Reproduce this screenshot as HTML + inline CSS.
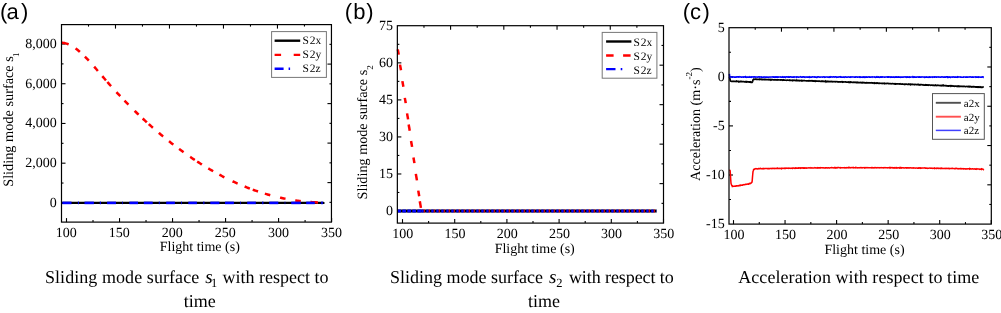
<!DOCTYPE html><html><head><meta charset="utf-8"><style>html,body{margin:0;padding:0;background:#fff;overflow:hidden}svg{display:block;will-change:transform;text-rendering:geometricPrecision}</style></head><body>
<svg width="1001" height="313" viewBox="0 0 1001 313">
<rect width="1001" height="313" fill="#fff"/>
<text y="18.7" font-family='"Liberation Sans", sans-serif' font-size="22" x="0.00 6.50 21.00">(a)</text>
<line x1="66.50" y1="222.1" x2="66.50" y2="218.1" stroke="#000" stroke-width="1.1"/>
<line x1="93.01" y1="222.1" x2="93.01" y2="220.1" stroke="#000" stroke-width="1.1"/>
<line x1="119.52" y1="222.1" x2="119.52" y2="218.1" stroke="#000" stroke-width="1.1"/>
<line x1="146.03" y1="222.1" x2="146.03" y2="220.1" stroke="#000" stroke-width="1.1"/>
<line x1="172.54" y1="222.1" x2="172.54" y2="218.1" stroke="#000" stroke-width="1.1"/>
<line x1="199.05" y1="222.1" x2="199.05" y2="220.1" stroke="#000" stroke-width="1.1"/>
<line x1="225.56" y1="222.1" x2="225.56" y2="218.1" stroke="#000" stroke-width="1.1"/>
<line x1="252.07" y1="222.1" x2="252.07" y2="220.1" stroke="#000" stroke-width="1.1"/>
<line x1="278.58" y1="222.1" x2="278.58" y2="218.1" stroke="#000" stroke-width="1.1"/>
<line x1="305.09" y1="222.1" x2="305.09" y2="220.1" stroke="#000" stroke-width="1.1"/>
<line x1="331.60" y1="222.1" x2="331.60" y2="218.1" stroke="#000" stroke-width="1.1"/>
<line x1="61.5" y1="202.90" x2="65.5" y2="202.90" stroke="#000" stroke-width="1.1"/>
<line x1="61.5" y1="183.04" x2="63.5" y2="183.04" stroke="#000" stroke-width="1.1"/>
<line x1="61.5" y1="163.18" x2="65.5" y2="163.18" stroke="#000" stroke-width="1.1"/>
<line x1="61.5" y1="143.32" x2="63.5" y2="143.32" stroke="#000" stroke-width="1.1"/>
<line x1="61.5" y1="123.46" x2="65.5" y2="123.46" stroke="#000" stroke-width="1.1"/>
<line x1="61.5" y1="103.60" x2="63.5" y2="103.60" stroke="#000" stroke-width="1.1"/>
<line x1="61.5" y1="83.74" x2="65.5" y2="83.74" stroke="#000" stroke-width="1.1"/>
<line x1="61.5" y1="63.88" x2="63.5" y2="63.88" stroke="#000" stroke-width="1.1"/>
<line x1="61.5" y1="44.02" x2="65.5" y2="44.02" stroke="#000" stroke-width="1.1"/>
<line x1="88.50" y1="24.6" x2="88.50" y2="26.6" stroke="#000" stroke-width="1.1"/>
<line x1="115.49" y1="24.6" x2="115.49" y2="28.6" stroke="#000" stroke-width="1.1"/>
<line x1="142.48" y1="24.6" x2="142.48" y2="26.6" stroke="#000" stroke-width="1.1"/>
<line x1="169.48" y1="24.6" x2="169.48" y2="28.6" stroke="#000" stroke-width="1.1"/>
<line x1="196.47" y1="24.6" x2="196.47" y2="26.6" stroke="#000" stroke-width="1.1"/>
<line x1="223.47" y1="24.6" x2="223.47" y2="28.6" stroke="#000" stroke-width="1.1"/>
<line x1="250.46" y1="24.6" x2="250.46" y2="26.6" stroke="#000" stroke-width="1.1"/>
<line x1="277.46" y1="24.6" x2="277.46" y2="28.6" stroke="#000" stroke-width="1.1"/>
<line x1="304.45" y1="24.6" x2="304.45" y2="26.6" stroke="#000" stroke-width="1.1"/>
<line x1="331.45" y1="44.35" x2="329.45" y2="44.35" stroke="#000" stroke-width="1.1"/>
<line x1="331.45" y1="64.10" x2="327.45" y2="64.10" stroke="#000" stroke-width="1.1"/>
<line x1="331.45" y1="83.85" x2="329.45" y2="83.85" stroke="#000" stroke-width="1.1"/>
<line x1="331.45" y1="103.60" x2="327.45" y2="103.60" stroke="#000" stroke-width="1.1"/>
<line x1="331.45" y1="123.35" x2="329.45" y2="123.35" stroke="#000" stroke-width="1.1"/>
<line x1="331.45" y1="143.10" x2="327.45" y2="143.10" stroke="#000" stroke-width="1.1"/>
<line x1="331.45" y1="162.85" x2="329.45" y2="162.85" stroke="#000" stroke-width="1.1"/>
<line x1="331.45" y1="182.60" x2="327.45" y2="182.60" stroke="#000" stroke-width="1.1"/>
<line x1="331.45" y1="202.35" x2="329.45" y2="202.35" stroke="#000" stroke-width="1.1"/>
<line x1="62.7" y1="202.90" x2="323.40" y2="202.90" stroke="#000" stroke-width="2.4" stroke-linecap="round"/>
<path d="M61.50,42.68 L62.52,42.76 L63.53,42.89 L64.55,43.09 L65.56,43.34 L66.58,43.64 L67.59,44.00 L68.61,44.40 L69.62,44.86 L70.64,45.36 L71.65,45.92 L72.67,46.51 L73.68,47.15 L74.70,47.83 L75.71,48.55 L76.73,49.31 L77.74,50.10 L78.76,50.93 L79.77,51.79 L80.79,52.69 L81.80,53.61 L82.82,54.57 L83.83,55.55 L84.85,56.55 L85.86,57.58 L86.88,58.63 L87.89,59.70 L88.91,60.79 L89.92,61.90 L90.94,63.02 L91.95,64.16 L92.97,65.31 L93.98,66.47 L95.00,67.63 L96.01,68.81 L97.03,69.99 L98.04,71.18 L99.06,72.37 L100.07,73.56 L101.09,74.75 L102.10,75.93 L103.12,77.12 L104.13,78.30 L105.15,79.47 L106.16,80.63 L107.18,81.79 L108.19,82.94 L109.21,84.09 L110.22,85.23 L111.24,86.37 L112.25,87.49 L113.27,88.62 L114.28,89.73 L115.30,90.84 L116.31,91.94 L117.33,93.04 L118.34,94.13 L119.36,95.22 L120.37,96.30 L121.39,97.37 L122.40,98.44 L123.42,99.50 L124.43,100.55 L125.45,101.60 L126.46,102.64 L127.48,103.68 L128.49,104.71 L129.51,105.74 L130.52,106.76 L131.54,107.77 L132.55,108.78 L133.57,109.78 L134.58,110.77 L135.60,111.76 L136.61,112.75 L137.63,113.73 L138.64,114.70 L139.66,115.67 L140.67,116.63 L141.69,117.58 L142.70,118.53 L143.72,119.48 L144.73,120.42 L145.75,121.35 L146.76,122.28 L147.78,123.20 L148.79,124.12 L149.81,125.03 L150.83,125.93 L151.84,126.83 L152.86,127.73 L153.87,128.61 L154.89,129.50 L155.90,130.37 L156.92,131.25 L157.93,132.11 L158.95,132.98 L159.96,133.83 L160.98,134.68 L161.99,135.53 L163.01,136.37 L164.02,137.20 L165.04,138.03 L166.05,138.86 L167.07,139.68 L168.08,140.49 L169.10,141.30 L170.11,142.10 L171.13,142.90 L172.14,143.69 L173.16,144.48 L174.17,145.26 L175.19,146.04 L176.20,146.81 L177.22,147.57 L178.23,148.33 L179.25,149.09 L180.26,149.84 L181.28,150.58 L182.29,151.32 L183.31,152.05 L184.32,152.78 L185.34,153.51 L186.35,154.22 L187.37,154.94 L188.38,155.64 L189.40,156.35 L190.41,157.04 L191.43,157.73 L192.44,158.42 L193.46,159.10 L194.47,159.77 L195.49,160.44 L196.50,161.11 L197.52,161.77 L198.53,162.42 L199.55,163.07 L200.56,163.71 L201.58,164.35 L202.59,164.98 L203.61,165.61 L204.62,166.23 L205.64,166.85 L206.65,167.46 L207.67,168.07 L208.68,168.67 L209.70,169.26 L210.71,169.85 L211.73,170.44 L212.74,171.02 L213.76,171.59 L214.77,172.16 L215.79,172.72 L216.80,173.28 L217.82,173.84 L218.83,174.38 L219.85,174.93 L220.86,175.46 L221.88,176.00 L222.89,176.52 L223.91,177.04 L224.92,177.56 L225.94,178.07 L226.95,178.57 L227.97,179.07 L228.98,179.57 L230.00,180.06 L231.01,180.54 L232.03,181.02 L233.04,181.50 L234.06,181.96 L235.07,182.43 L236.09,182.88 L237.11,183.34 L238.12,183.78 L239.14,184.23 L240.15,184.66 L241.17,185.09 L242.18,185.52 L243.20,185.94 L244.21,186.36 L245.23,186.77 L246.24,187.17 L247.26,187.57 L248.27,187.96 L249.29,188.35 L250.30,188.74 L251.32,189.11 L252.33,189.49 L253.35,189.86 L254.36,190.22 L255.38,190.58 L256.39,190.93 L257.41,191.27 L258.42,191.62 L259.44,191.95 L260.45,192.28 L261.47,192.61 L262.48,192.93 L263.50,193.24 L264.51,193.55 L265.53,193.86 L266.54,194.16 L267.56,194.45 L268.57,194.74 L269.59,195.02 L270.60,195.30 L271.62,195.57 L272.63,195.84 L273.65,196.10 L274.66,196.36 L275.68,196.61 L276.69,196.86 L277.71,197.10 L278.72,197.34 L279.74,197.57 L280.75,197.79 L281.77,198.01 L282.78,198.23 L283.80,198.44 L284.81,198.64 L285.83,198.84 L286.84,199.03 L287.86,199.22 L288.87,199.41 L289.89,199.58 L290.90,199.76 L291.92,199.92 L292.93,200.09 L293.95,200.24 L294.96,200.40 L295.98,200.54 L296.99,200.68 L298.01,200.82 L299.02,200.95 L300.04,201.08 L301.05,201.20 L302.07,201.31 L303.08,201.42 L304.10,201.53 L305.11,201.63 L306.13,201.72 L307.14,201.81 L308.16,201.89 L309.17,201.97 L310.19,202.04 L311.20,202.11 L312.22,202.17 L313.23,202.23 L314.25,202.28 L315.26,202.33 L316.28,202.37 L317.29,202.41 L318.31,202.44 L319.32,202.46 L320.34,202.49 L321.35,202.50 L322.37,202.51 L323.38,202.52 L324.40,202.52" fill="none" stroke="#f00" stroke-width="2.5" stroke-dasharray="7.40,7.95,5.60,6.91,5.60,8.08,5.60,6.89,5.60,2.10,5.60,7.98,5.60,6.16,5.60,8.72,5.60,5.57,5.60,2.62,5.60,7.80,5.60,7.46,5.60,7.13,5.60,8.04,5.60,2.89,5.60,7.47,5.60,7.14,5.60,9.08,5.60,7.62,5.60,3.06,5.60,7.18,5.60,10.09,5.60,9.85,5.60,9.71,7.60,56.35"/>
<line x1="62.30" y1="202.90" x2="71.50" y2="202.90" stroke="#00f" stroke-width="2.6"/>
<line x1="77.90" y1="202.90" x2="78.90" y2="202.90" stroke="#00f" stroke-width="2.6"/>
<line x1="84.50" y1="202.90" x2="93.90" y2="202.90" stroke="#00f" stroke-width="2.6"/>
<line x1="99.80" y1="202.90" x2="100.90" y2="202.90" stroke="#00f" stroke-width="2.6"/>
<line x1="107.10" y1="202.90" x2="116.00" y2="202.90" stroke="#00f" stroke-width="2.6"/>
<line x1="122.20" y1="202.90" x2="122.90" y2="202.90" stroke="#00f" stroke-width="2.6"/>
<line x1="129.30" y1="202.90" x2="138.00" y2="202.90" stroke="#00f" stroke-width="2.6"/>
<line x1="143.80" y1="202.90" x2="152.70" y2="202.90" stroke="#00f" stroke-width="2.6"/>
<line x1="158.80" y1="202.90" x2="159.70" y2="202.90" stroke="#00f" stroke-width="2.6"/>
<line x1="166.20" y1="202.90" x2="174.90" y2="202.90" stroke="#00f" stroke-width="2.6"/>
<line x1="181.10" y1="202.90" x2="181.90" y2="202.90" stroke="#00f" stroke-width="2.6"/>
<line x1="188.30" y1="202.90" x2="196.90" y2="202.90" stroke="#00f" stroke-width="2.6"/>
<line x1="203.30" y1="202.90" x2="204.40" y2="202.90" stroke="#00f" stroke-width="2.6"/>
<line x1="210.30" y1="202.90" x2="219.40" y2="202.90" stroke="#00f" stroke-width="2.6"/>
<line x1="225.00" y1="202.90" x2="233.90" y2="202.90" stroke="#00f" stroke-width="2.6"/>
<line x1="240.20" y1="202.90" x2="240.90" y2="202.90" stroke="#00f" stroke-width="2.6"/>
<line x1="247.20" y1="202.90" x2="255.80" y2="202.90" stroke="#00f" stroke-width="2.6"/>
<line x1="262.20" y1="202.90" x2="263.40" y2="202.90" stroke="#00f" stroke-width="2.6"/>
<line x1="269.20" y1="202.90" x2="278.30" y2="202.90" stroke="#00f" stroke-width="2.6"/>
<line x1="284.70" y1="202.90" x2="285.30" y2="202.90" stroke="#00f" stroke-width="2.6"/>
<line x1="291.20" y1="202.90" x2="300.80" y2="202.90" stroke="#00f" stroke-width="2.6"/>
<line x1="306.20" y1="202.90" x2="314.80" y2="202.90" stroke="#00f" stroke-width="2.6"/>
<line x1="321.20" y1="202.90" x2="322.80" y2="202.90" stroke="#00f" stroke-width="2.6"/>
<rect x="61.5" y="24.6" width="269.95" height="197.50" fill="none" stroke="#000" stroke-width="1.2"/>
<text x="66.30" y="236.60" font-family='"Liberation Serif", serif' font-size="14" text-anchor="middle" >100</text>
<text x="119.32" y="236.60" font-family='"Liberation Serif", serif' font-size="14" text-anchor="middle" >150</text>
<text x="172.34" y="236.60" font-family='"Liberation Serif", serif' font-size="14" text-anchor="middle" >200</text>
<text x="225.36" y="236.60" font-family='"Liberation Serif", serif' font-size="14" text-anchor="middle" >250</text>
<text x="278.38" y="236.60" font-family='"Liberation Serif", serif' font-size="14" text-anchor="middle" >300</text>
<text x="331.40" y="236.60" font-family='"Liberation Serif", serif' font-size="14" text-anchor="middle" >350</text>
<text x="56.80" y="206.90" font-family='"Liberation Serif", serif' font-size="14" text-anchor="end" >0</text>
<text x="56.80" y="167.18" font-family='"Liberation Serif", serif' font-size="14" text-anchor="end" >2,000</text>
<text x="56.80" y="127.46" font-family='"Liberation Serif", serif' font-size="14" text-anchor="end" >4,000</text>
<text x="56.80" y="87.74" font-family='"Liberation Serif", serif' font-size="14" text-anchor="end" >6,000</text>
<text x="56.80" y="48.02" font-family='"Liberation Serif", serif' font-size="14" text-anchor="end" >8,000</text>
<text x="199.80" y="251.10" font-family='"Liberation Serif", serif' font-size="14" text-anchor="middle" >Flight time (s)</text>
<text transform="translate(13.1,186.8) rotate(-90)" font-family='"Liberation Serif", serif' font-size="14.3">Sliding mode surface s<tspan font-size="9" dx="-0.9" dy="6.1">1</tspan></text>
<rect x="271.6" y="31.6" width="54.8" height="45.8" fill="#fff" stroke="#777" stroke-width="1"/>
<line x1="274.6" y1="40.7" x2="300.2" y2="40.7" stroke="#000" stroke-width="2.4"/>
<line x1="274.6" y1="54.9" x2="300.2" y2="54.9" stroke="#f00" stroke-width="2.4" stroke-dasharray="6.5,12.6"/>
<line x1="274.6" y1="68.7" x2="300.2" y2="68.7" stroke="#00f" stroke-width="2.4" stroke-dasharray="9,5,1.5,20"/>
<text x="302.5 309.7 315.5" y="43.8" font-family='"Liberation Serif", serif' font-size="11.5">S2x</text>
<text x="302.5 309.7 315.5" y="57.6" font-family='"Liberation Serif", serif' font-size="11.5">S2y</text>
<text x="302.5 309.7 315.5" y="72.0" font-family='"Liberation Serif", serif' font-size="11.5">S2z</text>
<text x="44.9" y="283.4" font-family='"Liberation Serif", serif' font-size="18" textLength="154.3" lengthAdjust="spacing">Sliding mode surface</text>
<text x="205.2" y="283.4" font-family='"Liberation Serif", serif' font-size="19" font-style="italic">s</text>
<text x="211.0" y="286.59999999999997" font-family='"Liberation Serif", serif' font-size="12.5">1</text>
<text x="222.6" y="283.4" font-family='"Liberation Serif", serif' font-size="18" textLength="106.0" lengthAdjust="spacing">with respect to</text>
<text x="199.80" y="307.20" font-family='"Liberation Serif", serif' font-size="18" text-anchor="middle" >time</text>
<text y="18.7" font-family='"Liberation Sans", sans-serif' font-size="22" x="344.80 353.20 366.20">(b)</text>
<line x1="402.50" y1="223.1" x2="402.50" y2="219.1" stroke="#000" stroke-width="1.1"/>
<line x1="428.60" y1="223.1" x2="428.60" y2="221.1" stroke="#000" stroke-width="1.1"/>
<line x1="454.70" y1="223.1" x2="454.70" y2="219.1" stroke="#000" stroke-width="1.1"/>
<line x1="480.80" y1="223.1" x2="480.80" y2="221.1" stroke="#000" stroke-width="1.1"/>
<line x1="506.90" y1="223.1" x2="506.90" y2="219.1" stroke="#000" stroke-width="1.1"/>
<line x1="533.00" y1="223.1" x2="533.00" y2="221.1" stroke="#000" stroke-width="1.1"/>
<line x1="559.10" y1="223.1" x2="559.10" y2="219.1" stroke="#000" stroke-width="1.1"/>
<line x1="585.20" y1="223.1" x2="585.20" y2="221.1" stroke="#000" stroke-width="1.1"/>
<line x1="611.30" y1="223.1" x2="611.30" y2="219.1" stroke="#000" stroke-width="1.1"/>
<line x1="637.40" y1="223.1" x2="637.40" y2="221.1" stroke="#000" stroke-width="1.1"/>
<line x1="663.50" y1="223.1" x2="663.50" y2="219.1" stroke="#000" stroke-width="1.1"/>
<line x1="397.35" y1="211.00" x2="401.35" y2="211.00" stroke="#000" stroke-width="1.1"/>
<line x1="397.35" y1="192.48" x2="399.35" y2="192.48" stroke="#000" stroke-width="1.1"/>
<line x1="397.35" y1="173.97" x2="401.35" y2="173.97" stroke="#000" stroke-width="1.1"/>
<line x1="397.35" y1="155.45" x2="399.35" y2="155.45" stroke="#000" stroke-width="1.1"/>
<line x1="397.35" y1="136.93" x2="401.35" y2="136.93" stroke="#000" stroke-width="1.1"/>
<line x1="397.35" y1="118.41" x2="399.35" y2="118.41" stroke="#000" stroke-width="1.1"/>
<line x1="397.35" y1="99.90" x2="401.35" y2="99.90" stroke="#000" stroke-width="1.1"/>
<line x1="397.35" y1="81.38" x2="399.35" y2="81.38" stroke="#000" stroke-width="1.1"/>
<line x1="397.35" y1="62.86" x2="401.35" y2="62.86" stroke="#000" stroke-width="1.1"/>
<line x1="397.35" y1="44.34" x2="399.35" y2="44.34" stroke="#000" stroke-width="1.1"/>
<line x1="423.97" y1="25.7" x2="423.97" y2="27.7" stroke="#000" stroke-width="1.1"/>
<line x1="450.58" y1="25.7" x2="450.58" y2="29.7" stroke="#000" stroke-width="1.1"/>
<line x1="477.20" y1="25.7" x2="477.20" y2="27.7" stroke="#000" stroke-width="1.1"/>
<line x1="503.81" y1="25.7" x2="503.81" y2="29.7" stroke="#000" stroke-width="1.1"/>
<line x1="530.42" y1="25.7" x2="530.42" y2="27.7" stroke="#000" stroke-width="1.1"/>
<line x1="557.04" y1="25.7" x2="557.04" y2="29.7" stroke="#000" stroke-width="1.1"/>
<line x1="583.65" y1="25.7" x2="583.65" y2="27.7" stroke="#000" stroke-width="1.1"/>
<line x1="610.27" y1="25.7" x2="610.27" y2="29.7" stroke="#000" stroke-width="1.1"/>
<line x1="636.88" y1="25.7" x2="636.88" y2="27.7" stroke="#000" stroke-width="1.1"/>
<line x1="663.5" y1="45.44" x2="661.5" y2="45.44" stroke="#000" stroke-width="1.1"/>
<line x1="663.5" y1="65.18" x2="659.5" y2="65.18" stroke="#000" stroke-width="1.1"/>
<line x1="663.5" y1="84.92" x2="661.5" y2="84.92" stroke="#000" stroke-width="1.1"/>
<line x1="663.5" y1="104.66" x2="659.5" y2="104.66" stroke="#000" stroke-width="1.1"/>
<line x1="663.5" y1="124.40" x2="661.5" y2="124.40" stroke="#000" stroke-width="1.1"/>
<line x1="663.5" y1="144.14" x2="659.5" y2="144.14" stroke="#000" stroke-width="1.1"/>
<line x1="663.5" y1="163.88" x2="661.5" y2="163.88" stroke="#000" stroke-width="1.1"/>
<line x1="663.5" y1="183.62" x2="659.5" y2="183.62" stroke="#000" stroke-width="1.1"/>
<line x1="663.5" y1="203.36" x2="661.5" y2="203.36" stroke="#000" stroke-width="1.1"/>
<line x1="397.35" y1="211.00" x2="656.60" y2="211.00" stroke="#000" stroke-width="2.9"/>
<line x1="397.79" y1="49.4" x2="398.71" y2="54.6" stroke="#f00" stroke-width="2.5"/>
<line x1="399.99" y1="64.6" x2="400.99" y2="70.30000000000001" stroke="#f00" stroke-width="2.5"/>
<line x1="402.38" y1="81.1" x2="403.38" y2="86.80000000000001" stroke="#f00" stroke-width="2.5"/>
<line x1="404.81" y1="97.89999999999999" x2="405.74" y2="103.10000000000001" stroke="#f00" stroke-width="2.5"/>
<line x1="407.06" y1="113.39999999999999" x2="408.10" y2="119.4" stroke="#f00" stroke-width="2.5"/>
<line x1="408.67" y1="124.5" x2="409.75" y2="130.8" stroke="#f00" stroke-width="2.5"/>
<line x1="411.06" y1="141.0" x2="412.09" y2="146.9" stroke="#f00" stroke-width="2.5"/>
<line x1="413.45" y1="157.5" x2="414.43" y2="163.1" stroke="#f00" stroke-width="2.5"/>
<line x1="415.83" y1="173.9" x2="416.94" y2="180.4" stroke="#f00" stroke-width="2.5"/>
<line x1="418.25" y1="190.6" x2="419.23" y2="196.20000000000002" stroke="#f00" stroke-width="2.5"/>
<line x1="419.80" y1="201.29999999999998" x2="420.93" y2="207.9" stroke="#f00" stroke-width="2.5"/>
<line x1="421.3" y1="211.00" x2="656.60" y2="211.00" stroke="#f00" stroke-width="2.9" stroke-dasharray="1.2,3.8" stroke-dashoffset="-2.3"/>
<line x1="397.35" y1="211.00" x2="421.3" y2="211.00" stroke="#00f" stroke-width="2.9" stroke-dasharray="3.6,1.4"/>
<line x1="421.3" y1="211.00" x2="656.60" y2="211.00" stroke="#00f" stroke-width="2.9" stroke-dasharray="2.2,2.8"/>
<rect x="397.35" y="25.7" width="266.15" height="197.40" fill="none" stroke="#000" stroke-width="1.2"/>
<text x="402.80" y="238.40" font-family='"Liberation Serif", serif' font-size="14" text-anchor="middle" >100</text>
<text x="455.00" y="238.40" font-family='"Liberation Serif", serif' font-size="14" text-anchor="middle" >150</text>
<text x="507.20" y="238.40" font-family='"Liberation Serif", serif' font-size="14" text-anchor="middle" >200</text>
<text x="559.40" y="238.40" font-family='"Liberation Serif", serif' font-size="14" text-anchor="middle" >250</text>
<text x="611.60" y="238.40" font-family='"Liberation Serif", serif' font-size="14" text-anchor="middle" >300</text>
<text x="663.80" y="238.40" font-family='"Liberation Serif", serif' font-size="14" text-anchor="middle" >350</text>
<text x="393.00" y="214.80" font-family='"Liberation Serif", serif' font-size="14" text-anchor="end" >0</text>
<text x="393.00" y="177.77" font-family='"Liberation Serif", serif' font-size="14" text-anchor="end" >15</text>
<text x="393.00" y="140.73" font-family='"Liberation Serif", serif' font-size="14" text-anchor="end" >30</text>
<text x="393.00" y="103.70" font-family='"Liberation Serif", serif' font-size="14" text-anchor="end" >45</text>
<text x="393.00" y="66.66" font-family='"Liberation Serif", serif' font-size="14" text-anchor="end" >60</text>
<text x="393.00" y="29.63" font-family='"Liberation Serif", serif' font-size="14" text-anchor="end" >75</text>
<text x="534.70" y="252.90" font-family='"Liberation Serif", serif' font-size="14" text-anchor="middle" >Flight time (s)</text>
<text transform="translate(367.1,199.4) rotate(-90)" font-family='"Liberation Serif", serif' font-size="14.2">Sliding mode surface s<tspan font-size="9" dx="-0.1" dy="6">2</tspan></text>
<rect x="602.2" y="32.4" width="54.7" height="45.8" fill="#fff" stroke="#777" stroke-width="1"/>
<line x1="606.1" y1="41.5" x2="631.4" y2="41.5" stroke="#000" stroke-width="2.4"/>
<line x1="606.1" y1="55.5" x2="631.4" y2="55.5" stroke="#f00" stroke-width="2.4" stroke-dasharray="7.5,9.5"/>
<line x1="606.1" y1="69.1" x2="631.4" y2="69.1" stroke="#00f" stroke-width="2.4" stroke-dasharray="9.4,5.2,1.6,20"/>
<text x="633.5 640.7 646.5" y="45.8" font-family='"Liberation Serif", serif' font-size="11.5">S2x</text>
<text x="633.5 640.7 646.5" y="59.7" font-family='"Liberation Serif", serif' font-size="11.5">S2y</text>
<text x="633.5 640.7 646.5" y="74.2" font-family='"Liberation Serif", serif' font-size="11.5">S2z</text>
<text x="390.0" y="283.4" font-family='"Liberation Serif", serif' font-size="18" textLength="153.0" lengthAdjust="spacing">Sliding mode surface</text>
<text x="548.9" y="283.4" font-family='"Liberation Serif", serif' font-size="19" font-style="italic">s</text>
<text x="556.2" y="286.59999999999997" font-family='"Liberation Serif", serif' font-size="12.5">2</text>
<text x="568.9" y="283.4" font-family='"Liberation Serif", serif' font-size="18" textLength="104.8" lengthAdjust="spacing">with respect to</text>
<text x="543.90" y="307.20" font-family='"Liberation Serif", serif' font-size="18" text-anchor="middle" >time</text>
<text y="18.7" font-family='"Liberation Sans", sans-serif' font-size="22" x="682.80 690.10 702.40">(c)</text>
<line x1="733.50" y1="224.1" x2="733.50" y2="220.1" stroke="#000" stroke-width="1.1"/>
<line x1="759.27" y1="224.1" x2="759.27" y2="222.1" stroke="#000" stroke-width="1.1"/>
<line x1="785.05" y1="224.1" x2="785.05" y2="220.1" stroke="#000" stroke-width="1.1"/>
<line x1="810.83" y1="224.1" x2="810.83" y2="222.1" stroke="#000" stroke-width="1.1"/>
<line x1="836.60" y1="224.1" x2="836.60" y2="220.1" stroke="#000" stroke-width="1.1"/>
<line x1="862.38" y1="224.1" x2="862.38" y2="222.1" stroke="#000" stroke-width="1.1"/>
<line x1="888.15" y1="224.1" x2="888.15" y2="220.1" stroke="#000" stroke-width="1.1"/>
<line x1="913.92" y1="224.1" x2="913.92" y2="222.1" stroke="#000" stroke-width="1.1"/>
<line x1="939.70" y1="224.1" x2="939.70" y2="220.1" stroke="#000" stroke-width="1.1"/>
<line x1="965.48" y1="224.1" x2="965.48" y2="222.1" stroke="#000" stroke-width="1.1"/>
<line x1="991.25" y1="224.1" x2="991.25" y2="220.1" stroke="#000" stroke-width="1.1"/>
<line x1="729.0" y1="199.55" x2="731.0" y2="199.55" stroke="#000" stroke-width="1.1"/>
<line x1="729.0" y1="175.00" x2="733.0" y2="175.00" stroke="#000" stroke-width="1.1"/>
<line x1="729.0" y1="150.45" x2="731.0" y2="150.45" stroke="#000" stroke-width="1.1"/>
<line x1="729.0" y1="125.90" x2="733.0" y2="125.90" stroke="#000" stroke-width="1.1"/>
<line x1="729.0" y1="101.35" x2="731.0" y2="101.35" stroke="#000" stroke-width="1.1"/>
<line x1="729.0" y1="76.80" x2="733.0" y2="76.80" stroke="#000" stroke-width="1.1"/>
<line x1="729.0" y1="52.25" x2="731.0" y2="52.25" stroke="#000" stroke-width="1.1"/>
<line x1="755.23" y1="27.7" x2="755.23" y2="29.7" stroke="#000" stroke-width="1.1"/>
<line x1="781.46" y1="27.7" x2="781.46" y2="31.7" stroke="#000" stroke-width="1.1"/>
<line x1="807.69" y1="27.7" x2="807.69" y2="29.7" stroke="#000" stroke-width="1.1"/>
<line x1="833.92" y1="27.7" x2="833.92" y2="31.7" stroke="#000" stroke-width="1.1"/>
<line x1="860.15" y1="27.7" x2="860.15" y2="29.7" stroke="#000" stroke-width="1.1"/>
<line x1="886.38" y1="27.7" x2="886.38" y2="31.7" stroke="#000" stroke-width="1.1"/>
<line x1="912.61" y1="27.7" x2="912.61" y2="29.7" stroke="#000" stroke-width="1.1"/>
<line x1="938.84" y1="27.7" x2="938.84" y2="31.7" stroke="#000" stroke-width="1.1"/>
<line x1="965.07" y1="27.7" x2="965.07" y2="29.7" stroke="#000" stroke-width="1.1"/>
<line x1="991.3" y1="47.34" x2="989.3" y2="47.34" stroke="#000" stroke-width="1.1"/>
<line x1="991.3" y1="66.98" x2="987.3" y2="66.98" stroke="#000" stroke-width="1.1"/>
<line x1="991.3" y1="86.62" x2="989.3" y2="86.62" stroke="#000" stroke-width="1.1"/>
<line x1="991.3" y1="106.26" x2="987.3" y2="106.26" stroke="#000" stroke-width="1.1"/>
<line x1="991.3" y1="125.90" x2="989.3" y2="125.90" stroke="#000" stroke-width="1.1"/>
<line x1="991.3" y1="145.54" x2="987.3" y2="145.54" stroke="#000" stroke-width="1.1"/>
<line x1="991.3" y1="165.18" x2="989.3" y2="165.18" stroke="#000" stroke-width="1.1"/>
<line x1="991.3" y1="184.82" x2="987.3" y2="184.82" stroke="#000" stroke-width="1.1"/>
<line x1="991.3" y1="204.46" x2="989.3" y2="204.46" stroke="#000" stroke-width="1.1"/>
<path d="M729.40,77.04 L729.71,78.02 L730.01,79.19 L730.32,80.65 L730.63,81.09 L730.93,81.20 L731.24,81.24 L731.54,81.38 L731.85,81.36 L732.16,81.36 L732.46,81.33 L732.77,81.40 L733.08,81.25 L733.38,81.33 L733.69,81.30 L733.99,81.44 L734.30,81.38 L734.61,81.34 L734.91,81.29 L735.22,81.36 L735.53,81.40 L735.83,81.37 L736.14,81.57 L736.45,81.54 L736.75,81.10 L737.06,81.21 L737.36,81.42 L737.67,81.40 L737.98,81.48 L738.28,81.49 L738.59,81.72 L738.90,81.34 L739.20,81.44 L739.51,81.73 L739.82,81.57 L740.12,81.59 L740.43,81.46 L740.73,81.34 L741.04,81.57 L741.35,81.58 L741.65,81.44 L741.96,81.52 L742.27,81.60 L742.57,81.52 L742.88,81.63 L743.18,81.67 L743.49,81.68 L743.80,81.63 L744.10,81.78 L744.41,81.83 L744.72,81.77 L745.02,81.65 L745.33,81.85 L745.64,81.72 L745.94,81.90 L746.25,81.68 L746.55,81.94 L746.86,81.84 L747.17,81.71 L747.47,81.84 L747.78,81.90 L748.09,81.94 L748.39,81.82 L748.70,81.83 L749.01,82.02 L749.31,81.97 L749.62,82.08 L749.92,82.17 L750.23,81.91 L750.54,82.17 L750.84,82.32 L751.15,82.16 L751.46,82.13 L751.76,82.35 L752.07,82.32 L752.37,82.06 L752.68,81.15 L752.99,79.87 L753.29,79.64 L753.60,79.17 L754.50,79.35 L754.87,79.29 L755.24,79.08 L755.61,79.14 L755.98,79.40 L756.35,79.39 L756.72,79.24 L757.09,79.33 L757.46,79.39 L757.83,79.40 L758.20,79.46 L758.57,79.40 L758.95,79.37 L759.32,79.36 L759.69,79.53 L760.06,79.14 L760.43,79.40 L760.80,79.43 L761.17,79.27 L761.54,79.49 L761.91,79.38 L762.28,79.58 L762.65,79.47 L763.02,79.57 L763.39,79.65 L763.76,79.56 L764.13,79.42 L764.50,79.36 L764.87,79.76 L765.24,79.54 L765.61,79.49 L765.98,79.60 L766.35,79.57 L766.72,79.70 L767.09,79.62 L767.47,79.62 L767.84,79.55 L768.21,79.70 L768.58,79.53 L768.95,79.74 L769.32,79.86 L769.69,79.50 L770.06,79.40 L770.43,79.78 L770.80,80.02 L771.17,79.61 L771.54,79.59 L771.91,79.82 L772.28,79.66 L772.65,79.71 L773.02,79.74 L773.39,79.86 L773.76,79.76 L774.13,79.85 L774.50,79.81 L774.87,79.74 L775.24,79.81 L775.61,79.75 L775.99,79.87 L776.36,79.75 L776.73,79.76 L777.10,80.08 L777.47,79.91 L777.84,79.92 L778.21,80.00 L778.58,79.90 L778.95,79.93 L779.32,80.02 L779.69,80.01 L780.06,79.85 L780.43,80.10 L780.80,79.94 L781.17,79.90 L781.54,79.93 L781.91,80.00 L782.28,80.25 L782.65,79.93 L783.02,80.10 L783.39,79.83 L783.76,80.10 L784.13,80.22 L784.51,80.09 L784.88,80.06 L785.25,80.17 L785.62,80.24 L785.99,80.25 L786.36,80.42 L786.73,80.21 L787.10,80.13 L787.47,80.20 L787.84,80.21 L788.21,80.25 L788.58,80.24 L788.95,80.28 L789.32,80.07 L789.69,80.38 L790.06,80.22 L790.43,80.16 L790.80,80.39 L791.17,80.48 L791.54,80.39 L791.91,80.37 L792.28,80.25 L792.65,80.71 L793.03,80.49 L793.40,80.25 L793.77,80.31 L794.14,80.42 L794.51,80.24 L794.88,80.46 L795.25,80.39 L795.62,80.61 L795.99,80.59 L796.36,80.16 L796.73,80.50 L797.10,80.31 L797.47,80.65 L797.84,80.55 L798.21,80.60 L798.58,80.42 L798.95,80.78 L799.32,80.82 L799.69,80.46 L800.06,80.64 L800.43,80.53 L800.80,80.62 L801.17,80.48 L801.55,80.87 L801.92,80.54 L802.29,80.63 L802.66,80.74 L803.03,80.61 L803.40,80.67 L803.77,80.64 L804.14,80.71 L804.51,80.59 L804.88,80.69 L805.25,80.73 L805.62,80.73 L805.99,80.79 L806.36,80.76 L806.73,80.89 L807.10,80.78 L807.47,80.81 L807.84,80.76 L808.21,80.79 L808.58,80.71 L808.95,80.93 L809.32,80.75 L809.69,80.81 L810.07,80.95 L810.44,80.97 L810.81,80.88 L811.18,80.70 L811.55,81.00 L811.92,81.00 L812.29,80.81 L812.66,81.08 L813.03,80.92 L813.40,80.88 L813.77,81.04 L814.14,81.01 L814.51,81.07 L814.88,80.87 L815.25,81.29 L815.62,81.01 L815.99,80.91 L816.36,81.18 L816.73,81.08 L817.10,81.17 L817.47,81.10 L817.84,81.15 L818.22,81.19 L818.59,81.09 L818.96,81.27 L819.33,81.14 L819.70,81.11 L820.07,81.23 L820.44,81.29 L820.81,81.22 L821.18,81.16 L821.55,81.35 L821.92,81.07 L822.29,81.17 L822.66,81.31 L823.03,81.16 L823.40,81.34 L823.77,81.34 L824.14,81.46 L824.51,81.26 L824.88,81.30 L825.25,81.43 L825.62,81.11 L825.99,81.79 L826.36,81.34 L826.74,81.35 L827.11,81.56 L827.48,81.46 L827.85,81.26 L828.22,81.56 L828.59,81.60 L828.96,81.46 L829.33,81.49 L829.70,81.59 L830.07,81.44 L830.44,81.61 L830.81,81.60 L831.18,81.50 L831.55,81.43 L831.92,81.58 L832.29,81.52 L832.66,81.75 L833.03,81.66 L833.40,81.75 L833.77,81.69 L834.14,81.71 L834.51,81.60 L834.88,81.79 L835.26,81.93 L835.63,81.69 L836.00,81.67 L836.37,81.74 L836.74,81.71 L837.11,81.70 L837.48,81.81 L837.85,81.77 L838.22,81.99 L838.59,81.83 L838.96,81.88 L839.33,81.97 L839.70,81.83 L840.07,82.05 L840.44,81.81 L840.81,81.81 L841.18,81.87 L841.55,81.91 L841.92,81.77 L842.29,81.95 L842.66,81.76 L843.03,82.14 L843.40,81.98 L843.78,81.92 L844.15,81.91 L844.52,81.98 L844.89,82.01 L845.26,81.93 L845.63,81.95 L846.00,82.05 L846.37,82.03 L846.74,82.21 L847.11,82.25 L847.48,82.13 L847.85,82.20 L848.22,81.99 L848.59,82.24 L848.96,82.17 L849.33,82.25 L849.70,82.39 L850.07,81.94 L850.44,82.26 L850.81,82.11 L851.18,82.32 L851.55,82.11 L851.92,82.22 L852.30,82.31 L852.67,82.38 L853.04,82.32 L853.41,82.23 L853.78,82.27 L854.15,82.46 L854.52,82.36 L854.89,82.18 L855.26,82.49 L855.63,82.45 L856.00,82.52 L856.37,82.39 L856.74,82.54 L857.11,82.33 L857.48,82.53 L857.85,82.42 L858.22,82.57 L858.59,82.63 L858.96,82.43 L859.33,82.52 L859.70,82.55 L860.07,82.70 L860.44,82.65 L860.82,82.43 L861.19,82.65 L861.56,82.70 L861.93,82.87 L862.30,82.43 L862.67,82.58 L863.04,82.82 L863.41,82.51 L863.78,82.54 L864.15,82.76 L864.52,82.83 L864.89,82.64 L865.26,82.80 L865.63,82.76 L866.00,82.94 L866.37,82.77 L866.74,82.91 L867.11,82.69 L867.48,82.79 L867.85,82.81 L868.22,82.98 L868.59,82.92 L868.96,82.77 L869.34,82.96 L869.71,82.98 L870.08,82.89 L870.45,82.89 L870.82,82.91 L871.19,82.74 L871.56,82.98 L871.93,83.00 L872.30,82.88 L872.67,83.08 L873.04,82.84 L873.41,82.95 L873.78,82.98 L874.15,83.29 L874.52,82.87 L874.89,83.14 L875.26,83.20 L875.63,83.14 L876.00,83.25 L876.37,83.01 L876.74,82.87 L877.11,83.24 L877.48,83.02 L877.86,83.14 L878.23,83.05 L878.60,83.33 L878.97,83.32 L879.34,83.14 L879.71,83.35 L880.08,83.27 L880.45,83.25 L880.82,83.29 L881.19,83.27 L881.56,83.38 L881.93,83.36 L882.30,83.30 L882.67,83.47 L883.04,83.29 L883.41,83.41 L883.78,83.44 L884.15,83.58 L884.52,83.36 L884.89,83.64 L885.26,83.46 L885.63,83.43 L886.00,83.39 L886.38,83.55 L886.75,83.50 L887.12,83.38 L887.49,83.39 L887.86,83.47 L888.23,83.47 L888.60,83.69 L888.97,83.74 L889.34,83.69 L889.71,83.65 L890.08,83.57 L890.45,83.64 L890.82,83.75 L891.19,83.91 L891.56,83.78 L891.93,83.65 L892.30,83.70 L892.67,83.65 L893.04,83.63 L893.41,83.72 L893.78,83.78 L894.15,83.99 L894.52,83.79 L894.90,83.96 L895.27,84.02 L895.64,83.83 L896.01,84.03 L896.38,83.93 L896.75,83.81 L897.12,83.91 L897.49,83.89 L897.86,83.87 L898.23,83.89 L898.60,83.95 L898.97,83.99 L899.34,83.85 L899.71,83.97 L900.08,83.80 L900.45,84.03 L900.82,84.09 L901.19,84.04 L901.56,84.07 L901.93,84.12 L902.30,83.99 L902.67,84.05 L903.04,84.15 L903.42,84.23 L903.79,84.17 L904.16,84.44 L904.53,84.14 L904.90,84.28 L905.27,84.33 L905.64,84.17 L906.01,84.11 L906.38,84.08 L906.75,84.25 L907.12,84.38 L907.49,84.29 L907.86,84.29 L908.23,84.24 L908.60,84.37 L908.97,84.06 L909.34,84.36 L909.71,84.35 L910.08,84.19 L910.45,84.63 L910.82,84.22 L911.19,84.27 L911.56,84.27 L911.94,84.56 L912.31,84.33 L912.68,84.53 L913.05,84.54 L913.42,84.51 L913.79,84.34 L914.16,84.44 L914.53,84.72 L914.90,84.38 L915.27,84.45 L915.64,84.55 L916.01,84.68 L916.38,84.62 L916.75,84.70 L917.12,84.49 L917.49,84.75 L917.86,84.72 L918.23,84.47 L918.60,84.86 L918.97,84.97 L919.34,84.61 L919.71,84.73 L920.08,84.90 L920.46,84.57 L920.83,84.52 L921.20,84.62 L921.57,84.72 L921.94,84.74 L922.31,84.89 L922.68,84.87 L923.05,84.70 L923.42,84.93 L923.79,85.10 L924.16,85.03 L924.53,85.02 L924.90,84.92 L925.27,85.05 L925.64,84.83 L926.01,85.05 L926.38,84.96 L926.75,85.13 L927.12,85.06 L927.49,84.89 L927.86,85.05 L928.23,85.19 L928.61,84.93 L928.98,85.01 L929.35,85.00 L929.72,84.92 L930.09,85.23 L930.46,85.29 L930.83,85.24 L931.20,85.19 L931.57,85.17 L931.94,85.22 L932.31,85.12 L932.68,85.33 L933.05,85.36 L933.42,85.36 L933.79,85.20 L934.16,85.29 L934.53,85.27 L934.90,85.52 L935.27,85.34 L935.64,85.11 L936.01,85.40 L936.38,85.59 L936.75,85.46 L937.13,85.50 L937.50,85.41 L937.87,85.18 L938.24,85.22 L938.61,85.30 L938.98,85.45 L939.35,85.52 L939.72,85.58 L940.09,85.47 L940.46,85.64 L940.83,85.50 L941.20,85.47 L941.57,85.67 L941.94,85.47 L942.31,85.27 L942.68,85.48 L943.05,85.64 L943.42,85.27 L943.79,85.61 L944.16,85.63 L944.53,85.51 L944.90,85.52 L945.27,85.66 L945.65,85.66 L946.02,85.89 L946.39,85.80 L946.76,85.58 L947.13,85.68 L947.50,85.89 L947.87,86.04 L948.24,85.88 L948.61,85.88 L948.98,86.08 L949.35,85.87 L949.72,85.85 L950.09,85.74 L950.46,85.86 L950.83,86.20 L951.20,85.78 L951.57,85.97 L951.94,85.81 L952.31,86.01 L952.68,86.12 L953.05,85.99 L953.42,86.13 L953.79,86.14 L954.17,86.12 L954.54,86.29 L954.91,86.19 L955.28,86.08 L955.65,86.05 L956.02,86.04 L956.39,86.21 L956.76,86.13 L957.13,86.52 L957.50,86.42 L957.87,86.19 L958.24,86.19 L958.61,86.45 L958.98,86.04 L959.35,86.22 L959.72,86.41 L960.09,86.20 L960.46,86.27 L960.83,86.30 L961.20,86.43 L961.57,86.38 L961.94,86.43 L962.31,86.47 L962.69,86.42 L963.06,86.56 L963.43,86.36 L963.80,86.29 L964.17,86.26 L964.54,86.29 L964.91,86.44 L965.28,86.64 L965.65,86.55 L966.02,86.48 L966.39,86.44 L966.76,86.52 L967.13,86.55 L967.50,86.54 L967.87,86.45 L968.24,86.58 L968.61,86.78 L968.98,86.41 L969.35,86.66 L969.72,86.45 L970.09,86.74 L970.46,86.64 L970.83,86.50 L971.21,86.77 L971.58,87.00 L971.95,86.81 L972.32,86.95 L972.69,86.81 L973.06,86.58 L973.43,86.91 L973.80,86.82 L974.17,86.71 L974.54,86.99 L974.91,86.95 L975.28,86.87 L975.65,87.05 L976.02,86.86 L976.39,87.05 L976.76,86.88 L977.13,87.07 L977.50,86.89 L977.87,87.22 L978.24,87.08 L978.61,87.24 L978.98,86.99 L979.35,87.04 L979.73,87.22 L980.10,86.80 L980.47,87.02 L980.84,87.29 L981.21,87.23 L981.58,87.31 L981.95,87.17 L982.32,87.29 L982.69,87.15 L983.06,87.09 L983.43,87.07 L983.80,87.22" fill="none" stroke="#000" stroke-width="1.7"/>
<path d="M729.60,169.63 L729.89,170.48 L730.17,170.99 L730.46,175.42 L730.74,179.88 L731.03,183.61 L731.31,184.33 L731.60,185.11 L731.88,185.56 L732.17,186.20 L732.45,185.95 L732.74,186.40 L733.02,186.51 L733.31,186.42 L733.60,186.28 L733.88,186.33 L734.17,186.13 L734.45,186.27 L734.74,186.20 L735.02,186.22 L735.31,186.24 L735.59,186.29 L735.88,186.00 L736.16,186.13 L736.45,185.87 L736.73,185.82 L737.02,185.82 L737.31,185.74 L737.59,185.94 L737.88,185.89 L738.16,185.90 L738.45,185.70 L738.73,185.70 L739.02,185.56 L739.30,185.45 L739.59,185.61 L739.87,185.55 L740.16,185.34 L740.44,185.49 L740.73,185.16 L741.02,185.29 L741.30,185.19 L741.59,185.15 L741.87,185.03 L742.16,185.22 L742.44,185.12 L742.73,185.14 L743.01,184.96 L743.30,184.74 L743.58,184.80 L743.87,184.65 L744.16,184.79 L744.44,184.83 L744.73,184.67 L745.01,184.51 L745.30,184.48 L745.58,184.50 L745.87,184.25 L746.15,184.39 L746.44,184.33 L746.72,184.19 L747.01,184.15 L747.29,184.16 L747.58,183.98 L747.87,183.93 L748.15,184.06 L748.44,183.94 L748.72,184.05 L749.01,183.68 L749.29,183.53 L749.58,183.79 L749.86,183.74 L750.15,183.48 L750.43,183.33 L750.72,183.45 L751.00,183.18 L751.29,183.04 L751.58,182.51 L751.86,182.43 L752.15,181.34 L752.43,177.86 L752.72,174.47 L753.00,171.61 L753.29,170.76 L753.57,169.61 L753.86,169.34 L754.14,169.11 L754.43,169.25 L754.71,168.95 L755.00,168.99 L756.00,168.63 L756.37,168.74 L756.74,168.77 L757.10,168.92 L757.47,168.96 L757.84,168.66 L758.21,168.59 L758.58,168.51 L758.94,168.88 L759.31,168.70 L759.68,168.62 L760.05,168.69 L760.42,168.38 L760.78,168.47 L761.15,168.78 L761.52,168.71 L761.89,168.67 L762.26,168.53 L762.62,168.71 L762.99,168.85 L763.36,168.48 L763.73,168.62 L764.10,168.56 L764.46,168.65 L764.83,168.60 L765.20,168.58 L765.57,168.48 L765.94,168.58 L766.30,168.50 L766.67,168.55 L767.04,168.55 L767.41,168.63 L767.78,168.48 L768.14,168.50 L768.51,168.66 L768.88,168.50 L769.25,168.49 L769.62,168.62 L769.98,168.54 L770.35,168.51 L770.72,168.52 L771.09,168.34 L771.46,168.54 L771.82,168.63 L772.19,168.54 L772.56,168.28 L772.93,168.49 L773.30,168.34 L773.66,168.42 L774.03,168.45 L774.40,168.29 L774.77,168.59 L775.14,168.41 L775.50,168.51 L775.87,168.48 L776.24,168.56 L776.61,168.54 L776.98,168.21 L777.34,168.39 L777.71,168.12 L778.08,168.32 L778.45,168.45 L778.82,168.47 L779.18,168.51 L779.55,168.30 L779.92,168.38 L780.29,168.35 L780.66,168.48 L781.02,168.52 L781.39,168.28 L781.76,168.77 L782.13,168.31 L782.50,168.26 L782.86,168.37 L783.23,168.38 L783.60,168.35 L783.97,168.20 L784.34,168.45 L784.71,168.28 L785.07,168.45 L785.44,168.43 L785.81,168.10 L786.18,168.13 L786.55,168.12 L786.91,168.27 L787.28,168.24 L787.65,168.26 L788.02,168.13 L788.39,168.27 L788.75,168.38 L789.12,168.05 L789.49,168.18 L789.86,168.23 L790.23,168.18 L790.59,168.16 L790.96,168.40 L791.33,168.33 L791.70,168.27 L792.07,168.08 L792.43,168.43 L792.80,168.20 L793.17,168.08 L793.54,168.11 L793.91,168.08 L794.27,168.39 L794.64,168.16 L795.01,168.14 L795.38,167.87 L795.75,168.21 L796.11,167.99 L796.48,167.98 L796.85,168.18 L797.22,168.00 L797.59,168.20 L797.95,168.23 L798.32,167.87 L798.69,168.07 L799.06,167.89 L799.43,168.07 L799.79,168.18 L800.16,167.90 L800.53,168.28 L800.90,168.02 L801.27,167.91 L801.63,168.03 L802.00,168.14 L802.37,167.87 L802.74,168.04 L803.11,167.87 L803.47,168.17 L803.84,168.04 L804.21,167.97 L804.58,168.14 L804.95,167.86 L805.31,167.96 L805.68,168.22 L806.05,167.98 L806.42,168.16 L806.79,168.01 L807.15,167.90 L807.52,167.95 L807.89,167.99 L808.26,167.93 L808.63,167.87 L808.99,167.87 L809.36,167.79 L809.73,167.97 L810.10,168.00 L810.47,168.04 L810.83,167.73 L811.20,168.04 L811.57,167.94 L811.94,167.77 L812.31,167.95 L812.67,168.03 L813.04,167.99 L813.41,168.01 L813.78,168.03 L814.15,168.02 L814.51,167.91 L814.88,167.66 L815.25,167.82 L815.62,167.95 L815.99,167.84 L816.35,167.98 L816.72,167.99 L817.09,167.90 L817.46,168.11 L817.83,167.77 L818.19,167.99 L818.56,167.82 L818.93,167.78 L819.30,167.94 L819.67,167.80 L820.03,167.97 L820.40,167.72 L820.77,167.87 L821.14,167.76 L821.51,167.83 L821.87,167.81 L822.24,167.71 L822.61,167.93 L822.98,167.69 L823.35,167.72 L823.71,167.95 L824.08,167.95 L824.45,167.91 L824.82,167.87 L825.19,168.10 L825.55,167.68 L825.92,167.73 L826.29,167.70 L826.66,167.93 L827.03,167.85 L827.39,167.95 L827.76,167.93 L828.13,167.78 L828.50,167.71 L828.87,167.68 L829.23,168.07 L829.60,167.92 L829.97,167.87 L830.34,167.75 L830.71,167.77 L831.07,167.75 L831.44,167.75 L831.81,167.50 L832.18,167.78 L832.55,167.74 L832.91,167.81 L833.28,167.80 L833.65,167.88 L834.02,167.77 L834.39,167.87 L834.75,167.46 L835.12,167.64 L835.49,167.97 L835.86,167.62 L836.23,167.73 L836.59,167.85 L836.96,167.65 L837.33,167.84 L837.70,167.58 L838.07,167.52 L838.43,167.59 L838.80,167.55 L839.17,167.75 L839.54,167.71 L839.91,167.78 L840.27,167.62 L840.64,168.05 L841.01,167.73 L841.38,167.73 L841.75,167.79 L842.12,167.71 L842.48,167.66 L842.85,167.74 L843.22,167.84 L843.59,167.81 L843.96,167.84 L844.32,167.66 L844.69,167.63 L845.06,167.97 L845.43,167.70 L845.80,167.78 L846.16,167.81 L846.53,167.89 L846.90,167.56 L847.27,167.66 L847.64,167.67 L848.00,167.68 L848.37,167.43 L848.74,167.70 L849.11,167.37 L849.48,167.75 L849.84,167.78 L850.21,167.78 L850.58,167.57 L850.95,167.83 L851.32,167.61 L851.68,167.56 L852.05,167.59 L852.42,167.61 L852.79,167.73 L853.16,167.81 L853.52,167.45 L853.89,167.64 L854.26,167.81 L854.63,167.73 L855.00,167.76 L855.36,167.52 L855.73,167.82 L856.10,167.52 L856.47,167.73 L856.84,167.87 L857.20,167.93 L857.57,167.76 L857.94,167.81 L858.31,167.63 L858.68,167.64 L859.04,167.84 L859.41,167.70 L859.78,167.69 L860.15,167.53 L860.52,167.72 L860.88,167.78 L861.25,167.60 L861.62,167.64 L861.99,167.89 L862.36,167.72 L862.72,167.67 L863.09,167.56 L863.46,167.63 L863.83,167.67 L864.20,167.86 L864.56,167.63 L864.93,167.92 L865.30,167.59 L865.67,167.66 L866.04,167.80 L866.40,167.67 L866.77,167.60 L867.14,167.69 L867.51,167.76 L867.88,167.50 L868.24,167.67 L868.61,167.69 L868.98,167.66 L869.35,167.79 L869.72,167.64 L870.08,167.66 L870.45,167.71 L870.82,167.80 L871.19,167.68 L871.56,167.89 L871.92,167.60 L872.29,167.87 L872.66,167.61 L873.03,167.69 L873.40,167.76 L873.76,167.96 L874.13,167.82 L874.50,167.67 L874.87,167.87 L875.24,167.69 L875.60,167.62 L875.97,167.77 L876.34,167.73 L876.71,167.84 L877.08,167.66 L877.44,167.77 L877.81,167.80 L878.18,167.76 L878.55,167.72 L878.92,167.65 L879.28,167.84 L879.65,167.75 L880.02,167.79 L880.39,167.69 L880.76,167.74 L881.12,167.61 L881.49,167.75 L881.86,167.83 L882.23,167.75 L882.60,167.85 L882.96,167.78 L883.33,167.91 L883.70,167.72 L884.07,167.55 L884.44,167.80 L884.80,167.73 L885.17,167.64 L885.54,167.83 L885.91,167.79 L886.28,167.81 L886.64,167.72 L887.01,167.79 L887.38,167.80 L887.75,167.98 L888.12,167.69 L888.48,167.77 L888.85,167.82 L889.22,167.57 L889.59,167.58 L889.96,168.04 L890.32,167.57 L890.69,167.85 L891.06,167.68 L891.43,167.70 L891.80,167.55 L892.16,167.68 L892.53,167.89 L892.90,167.63 L893.27,167.87 L893.64,167.84 L894.00,168.05 L894.37,167.75 L894.74,167.96 L895.11,167.92 L895.48,167.78 L895.84,167.62 L896.21,168.00 L896.58,167.66 L896.95,167.77 L897.32,167.93 L897.68,167.96 L898.05,167.73 L898.42,167.83 L898.79,167.81 L899.16,167.98 L899.53,168.14 L899.89,167.63 L900.26,167.96 L900.63,167.51 L901.00,167.86 L901.37,167.72 L901.73,168.10 L902.10,167.88 L902.47,167.78 L902.84,167.81 L903.21,167.80 L903.57,167.90 L903.94,167.86 L904.31,167.96 L904.68,168.07 L905.05,167.97 L905.41,167.74 L905.78,167.70 L906.15,167.81 L906.52,168.03 L906.89,167.86 L907.25,167.83 L907.62,167.93 L907.99,167.74 L908.36,167.78 L908.73,167.98 L909.09,167.89 L909.46,167.87 L909.83,167.97 L910.20,167.86 L910.57,167.86 L910.93,167.89 L911.30,168.02 L911.67,167.96 L912.04,167.81 L912.41,167.92 L912.77,168.04 L913.14,168.19 L913.51,167.83 L913.88,168.01 L914.25,167.94 L914.61,168.08 L914.98,168.04 L915.35,168.16 L915.72,168.05 L916.09,167.93 L916.45,167.94 L916.82,168.05 L917.19,168.06 L917.56,168.30 L917.93,168.22 L918.29,167.88 L918.66,168.07 L919.03,167.87 L919.40,167.83 L919.77,168.13 L920.13,168.11 L920.50,167.92 L920.87,168.25 L921.24,167.94 L921.61,167.92 L921.97,168.14 L922.34,168.09 L922.71,168.05 L923.08,168.07 L923.45,168.11 L923.81,168.07 L924.18,168.07 L924.55,167.87 L924.92,167.94 L925.29,168.18 L925.65,168.03 L926.02,168.18 L926.39,168.27 L926.76,168.08 L927.13,168.16 L927.49,168.38 L927.86,168.22 L928.23,168.36 L928.60,168.33 L928.97,168.24 L929.33,168.14 L929.70,168.06 L930.07,168.04 L930.44,168.23 L930.81,168.23 L931.17,168.16 L931.54,168.29 L931.91,168.12 L932.28,168.33 L932.65,168.21 L933.01,168.21 L933.38,168.22 L933.75,168.21 L934.12,168.52 L934.49,168.04 L934.85,168.26 L935.22,168.39 L935.59,168.33 L935.96,168.22 L936.33,168.47 L936.69,168.14 L937.06,168.11 L937.43,168.34 L937.80,168.11 L938.17,168.00 L938.53,168.40 L938.90,168.39 L939.27,168.39 L939.64,168.25 L940.01,168.34 L940.37,168.21 L940.74,168.54 L941.11,168.43 L941.48,168.43 L941.85,168.11 L942.21,168.45 L942.58,168.54 L942.95,168.51 L943.32,168.46 L943.69,168.37 L944.05,168.34 L944.42,168.46 L944.79,168.44 L945.16,168.43 L945.53,168.37 L945.89,168.61 L946.26,168.28 L946.63,168.42 L947.00,168.36 L947.37,168.56 L947.73,168.61 L948.10,168.60 L948.47,168.55 L948.84,168.29 L949.21,168.72 L949.57,168.54 L949.94,168.47 L950.31,168.49 L950.68,168.45 L951.05,168.55 L951.41,168.55 L951.78,168.47 L952.15,168.21 L952.52,168.52 L952.89,168.59 L953.25,168.61 L953.62,168.53 L953.99,168.61 L954.36,168.69 L954.73,168.51 L955.09,168.75 L955.46,168.35 L955.83,168.44 L956.20,168.49 L956.57,168.31 L956.94,168.49 L957.30,168.77 L957.67,168.77 L958.04,168.64 L958.41,168.85 L958.78,168.68 L959.14,168.59 L959.51,168.69 L959.88,168.65 L960.25,168.76 L960.62,168.50 L960.98,168.81 L961.35,168.64 L961.72,168.81 L962.09,168.53 L962.46,168.67 L962.82,168.74 L963.19,168.84 L963.56,168.60 L963.93,168.95 L964.30,168.82 L964.66,168.70 L965.03,168.92 L965.40,168.79 L965.77,168.93 L966.14,169.08 L966.50,168.90 L966.87,168.75 L967.24,168.77 L967.61,168.90 L967.98,168.87 L968.34,168.74 L968.71,168.77 L969.08,168.94 L969.45,169.15 L969.82,168.56 L970.18,168.97 L970.55,168.87 L970.92,168.99 L971.29,169.01 L971.66,168.92 L972.02,168.80 L972.39,168.76 L972.76,168.72 L973.13,169.10 L973.50,168.93 L973.86,168.90 L974.23,168.94 L974.60,168.82 L974.97,169.03 L975.34,169.16 L975.70,169.14 L976.07,168.83 L976.44,169.19 L976.81,168.94 L977.18,168.81 L977.54,168.90 L977.91,168.94 L978.28,169.07 L978.65,168.95 L979.02,168.90 L979.38,169.06 L979.75,169.33 L980.12,169.03 L980.49,169.18 L980.86,169.14 L981.22,169.46 L981.59,168.92 L981.96,169.29 L982.33,169.01 L982.70,169.10 L983.06,169.17 L983.43,169.57 L983.80,169.11" fill="none" stroke="#f00" stroke-width="1.5"/>
<path d="M729.40,73.80 L729.76,77.21 L730.13,76.95 L730.49,77.02 L730.86,77.05 L731.22,77.06 L731.58,77.03 L731.95,77.08 L732.31,77.10 L732.68,77.15 L733.04,77.00 L733.40,76.96 L733.77,76.92 L734.13,77.12 L734.50,77.04 L734.86,77.12 L735.22,77.11 L735.59,77.25 L735.95,77.07 L736.32,77.14 L736.68,76.91 L737.04,76.92 L737.41,77.01 L737.77,76.90 L738.13,77.13 L738.50,76.89 L738.86,77.06 L739.23,76.76 L739.59,76.92 L739.95,77.01 L740.32,77.02 L740.68,76.84 L741.05,77.06 L741.41,77.17 L741.77,77.13 L742.14,76.97 L742.50,76.98 L742.87,76.91 L743.23,77.13 L743.59,77.22 L743.96,76.99 L744.32,76.85 L744.69,77.07 L745.05,77.13 L745.41,76.72 L745.78,77.07 L746.14,77.31 L746.51,77.15 L746.87,77.12 L747.23,77.10 L747.60,77.18 L747.96,76.94 L748.33,76.95 L748.69,77.10 L749.05,76.97 L749.42,77.08 L749.78,76.82 L750.15,77.14 L750.51,77.15 L750.87,77.06 L751.24,77.07 L751.60,77.24 L751.96,76.92 L752.33,76.94 L752.69,76.92 L753.06,77.00 L753.42,76.93 L753.78,77.05 L754.15,76.97 L754.51,76.88 L754.88,76.86 L755.24,77.20 L755.60,77.04 L755.97,77.02 L756.33,77.05 L756.70,77.04 L757.06,77.14 L757.42,77.12 L757.79,76.98 L758.15,76.95 L758.52,76.92 L758.88,76.90 L759.24,77.22 L759.61,76.94 L759.97,76.81 L760.34,76.95 L760.70,76.96 L761.06,77.09 L761.43,76.94 L761.79,77.11 L762.16,77.10 L762.52,77.20 L762.88,77.31 L763.25,77.39 L763.61,77.21 L763.98,76.91 L764.34,77.00 L764.70,77.08 L765.07,77.30 L765.43,77.13 L765.79,77.19 L766.16,77.03 L766.52,77.12 L766.89,77.14 L767.25,77.00 L767.61,77.14 L767.98,77.18 L768.34,77.03 L768.71,77.17 L769.07,77.25 L769.43,77.06 L769.80,77.05 L770.16,77.01 L770.53,76.98 L770.89,77.07 L771.25,77.00 L771.62,77.01 L771.98,76.96 L772.35,76.87 L772.71,76.94 L773.07,77.09 L773.44,76.91 L773.80,76.97 L774.17,77.25 L774.53,77.19 L774.89,76.97 L775.26,77.12 L775.62,76.97 L775.99,77.25 L776.35,76.98 L776.71,77.06 L777.08,77.22 L777.44,76.95 L777.81,77.21 L778.17,76.95 L778.53,77.08 L778.90,77.01 L779.26,77.04 L779.62,77.07 L779.99,77.04 L780.35,76.93 L780.72,77.15 L781.08,77.14 L781.44,77.20 L781.81,77.22 L782.17,76.89 L782.54,77.20 L782.90,77.21 L783.26,76.99 L783.63,77.17 L783.99,77.23 L784.36,76.99 L784.72,76.88 L785.08,77.01 L785.45,77.39 L785.81,77.08 L786.18,76.90 L786.54,77.02 L786.90,76.93 L787.27,77.00 L787.63,77.06 L788.00,76.74 L788.36,77.09 L788.72,77.22 L789.09,77.03 L789.45,77.00 L789.82,77.18 L790.18,76.90 L790.54,76.90 L790.91,76.88 L791.27,77.03 L791.64,77.10 L792.00,77.04 L792.36,77.12 L792.73,77.15 L793.09,77.11 L793.45,76.95 L793.82,77.02 L794.18,77.20 L794.55,76.92 L794.91,77.02 L795.27,77.00 L795.64,77.03 L796.00,76.92 L796.37,76.89 L796.73,77.36 L797.09,77.16 L797.46,76.96 L797.82,77.04 L798.19,77.13 L798.55,77.01 L798.91,77.12 L799.28,76.98 L799.64,77.01 L800.01,77.04 L800.37,77.00 L800.73,76.76 L801.10,77.05 L801.46,77.08 L801.83,77.11 L802.19,76.93 L802.55,77.09 L802.92,77.08 L803.28,76.84 L803.65,76.79 L804.01,77.11 L804.37,76.94 L804.74,77.17 L805.10,77.31 L805.47,76.98 L805.83,76.97 L806.19,77.05 L806.56,77.13 L806.92,76.91 L807.28,77.20 L807.65,77.17 L808.01,77.13 L808.38,76.99 L808.74,77.16 L809.10,77.15 L809.47,76.91 L809.83,77.30 L810.20,77.01 L810.56,77.09 L810.92,76.99 L811.29,77.10 L811.65,77.19 L812.02,76.95 L812.38,76.85 L812.74,77.00 L813.11,76.89 L813.47,76.96 L813.84,77.03 L814.20,77.04 L814.56,77.20 L814.93,76.93 L815.29,77.09 L815.66,76.99 L816.02,77.21 L816.38,77.35 L816.75,77.09 L817.11,77.25 L817.48,76.99 L817.84,76.86 L818.20,76.90 L818.57,76.86 L818.93,76.94 L819.30,77.02 L819.66,77.19 L820.02,77.13 L820.39,77.11 L820.75,77.00 L821.12,76.96 L821.48,77.05 L821.84,77.07 L822.21,77.08 L822.57,77.09 L822.93,77.04 L823.30,76.82 L823.66,76.92 L824.03,76.95 L824.39,77.25 L824.75,77.00 L825.12,77.13 L825.48,77.23 L825.85,77.09 L826.21,77.00 L826.57,77.01 L826.94,76.93 L827.30,77.09 L827.67,77.19 L828.03,77.12 L828.39,77.14 L828.76,77.14 L829.12,77.29 L829.49,76.97 L829.85,77.07 L830.21,77.13 L830.58,77.20 L830.94,76.76 L831.31,76.99 L831.67,77.02 L832.03,76.93 L832.40,77.15 L832.76,77.08 L833.13,77.00 L833.49,76.85 L833.85,76.89 L834.22,76.93 L834.58,77.10 L834.95,76.90 L835.31,76.80 L835.67,76.88 L836.04,76.98 L836.40,77.25 L836.76,77.35 L837.13,76.99 L837.49,77.16 L837.86,77.22 L838.22,77.20 L838.58,77.04 L838.95,76.89 L839.31,76.99 L839.68,76.83 L840.04,77.08 L840.40,77.14 L840.77,76.82 L841.13,77.04 L841.50,77.09 L841.86,77.20 L842.22,77.22 L842.59,77.15 L842.95,76.97 L843.32,77.01 L843.68,77.19 L844.04,76.98 L844.41,77.04 L844.77,77.24 L845.14,77.07 L845.50,76.89 L845.86,77.01 L846.23,77.13 L846.59,77.03 L846.96,77.19 L847.32,77.20 L847.68,76.97 L848.05,76.99 L848.41,77.04 L848.78,76.91 L849.14,77.10 L849.50,77.03 L849.87,77.14 L850.23,76.98 L850.59,76.94 L850.96,77.27 L851.32,76.94 L851.69,76.98 L852.05,76.96 L852.41,77.01 L852.78,76.94 L853.14,77.04 L853.51,76.97 L853.87,77.00 L854.23,77.09 L854.60,77.13 L854.96,77.11 L855.33,76.96 L855.69,77.10 L856.05,77.04 L856.42,77.04 L856.78,76.84 L857.15,77.13 L857.51,77.03 L857.87,77.25 L858.24,77.13 L858.60,76.92 L858.97,76.89 L859.33,77.19 L859.69,76.95 L860.06,77.13 L860.42,77.01 L860.79,77.30 L861.15,77.06 L861.51,77.23 L861.88,77.21 L862.24,76.99 L862.61,77.01 L862.97,77.23 L863.33,77.05 L863.70,76.95 L864.06,77.20 L864.42,77.36 L864.79,77.05 L865.15,77.22 L865.52,77.03 L865.88,77.22 L866.24,77.02 L866.61,77.21 L866.97,77.12 L867.34,77.03 L867.70,77.08 L868.06,76.99 L868.43,76.92 L868.79,76.93 L869.16,77.05 L869.52,76.93 L869.88,77.11 L870.25,77.12 L870.61,77.11 L870.98,77.00 L871.34,77.06 L871.70,77.05 L872.07,77.22 L872.43,76.96 L872.80,77.01 L873.16,77.03 L873.52,77.04 L873.89,76.97 L874.25,76.98 L874.62,77.18 L874.98,76.98 L875.34,77.17 L875.71,77.30 L876.07,77.21 L876.44,76.84 L876.80,77.15 L877.16,77.12 L877.53,77.12 L877.89,76.86 L878.25,77.15 L878.62,76.93 L878.98,77.21 L879.35,77.19 L879.71,77.36 L880.07,77.01 L880.44,76.87 L880.80,77.18 L881.17,77.16 L881.53,77.01 L881.89,77.22 L882.26,77.14 L882.62,76.90 L882.99,77.02 L883.35,77.00 L883.71,77.04 L884.08,77.08 L884.44,76.97 L884.81,77.03 L885.17,77.13 L885.53,77.05 L885.90,77.02 L886.26,77.02 L886.63,77.05 L886.99,76.83 L887.35,77.08 L887.72,76.93 L888.08,77.07 L888.45,76.88 L888.81,77.17 L889.17,77.09 L889.54,76.90 L889.90,77.09 L890.27,76.97 L890.63,77.27 L890.99,77.12 L891.36,76.96 L891.72,77.08 L892.08,77.05 L892.45,77.20 L892.81,77.10 L893.18,77.12 L893.54,76.92 L893.90,77.15 L894.27,77.31 L894.63,77.13 L895.00,77.05 L895.36,77.08 L895.72,76.94 L896.09,77.08 L896.45,76.93 L896.82,77.06 L897.18,77.01 L897.54,76.96 L897.91,77.13 L898.27,76.88 L898.64,77.05 L899.00,76.90 L899.36,77.28 L899.73,77.30 L900.09,77.16 L900.46,77.29 L900.82,77.13 L901.18,77.12 L901.55,77.01 L901.91,76.95 L902.28,77.07 L902.64,76.99 L903.00,77.01 L903.37,77.15 L903.73,77.04 L904.10,76.87 L904.46,77.03 L904.82,76.97 L905.19,77.02 L905.55,76.93 L905.92,77.20 L906.28,77.29 L906.64,76.92 L907.01,77.14 L907.37,77.13 L907.73,76.93 L908.10,77.07 L908.46,77.23 L908.83,77.16 L909.19,77.25 L909.55,76.92 L909.92,76.97 L910.28,77.09 L910.65,77.10 L911.01,77.06 L911.37,77.01 L911.74,77.01 L912.10,76.98 L912.47,77.11 L912.83,76.73 L913.19,77.25 L913.56,76.99 L913.92,76.88 L914.29,77.12 L914.65,76.89 L915.01,77.10 L915.38,77.01 L915.74,77.13 L916.11,77.15 L916.47,77.21 L916.83,77.00 L917.20,77.02 L917.56,77.05 L917.93,76.89 L918.29,77.13 L918.65,77.07 L919.02,76.89 L919.38,77.20 L919.75,77.22 L920.11,76.90 L920.47,77.12 L920.84,77.20 L921.20,77.16 L921.56,76.94 L921.93,76.89 L922.29,77.04 L922.66,76.99 L923.02,77.05 L923.38,77.04 L923.75,77.12 L924.11,76.99 L924.48,77.03 L924.84,77.41 L925.20,77.04 L925.57,77.14 L925.93,77.09 L926.30,77.08 L926.66,76.94 L927.02,77.12 L927.39,77.05 L927.75,77.15 L928.12,77.30 L928.48,77.08 L928.84,77.14 L929.21,76.93 L929.57,77.07 L929.94,77.24 L930.30,77.05 L930.66,76.98 L931.03,77.08 L931.39,77.03 L931.76,77.02 L932.12,77.01 L932.48,77.29 L932.85,76.95 L933.21,77.00 L933.58,76.98 L933.94,77.20 L934.30,77.02 L934.67,77.21 L935.03,77.07 L935.39,77.05 L935.76,76.88 L936.12,77.20 L936.49,77.12 L936.85,77.10 L937.21,77.04 L937.58,77.00 L937.94,76.90 L938.31,77.17 L938.67,77.08 L939.03,77.01 L939.40,76.98 L939.76,77.07 L940.13,77.04 L940.49,77.25 L940.85,77.15 L941.22,76.98 L941.58,76.92 L941.95,77.02 L942.31,76.94 L942.67,77.06 L943.04,77.10 L943.40,77.13 L943.77,77.10 L944.13,77.03 L944.49,77.12 L944.86,76.95 L945.22,77.04 L945.59,77.15 L945.95,77.09 L946.31,76.90 L946.68,76.91 L947.04,76.86 L947.41,77.27 L947.77,76.87 L948.13,77.04 L948.50,77.27 L948.86,77.18 L949.22,77.21 L949.59,76.99 L949.95,77.14 L950.32,77.42 L950.68,77.05 L951.04,77.10 L951.41,77.02 L951.77,77.05 L952.14,77.10 L952.50,77.22 L952.86,76.95 L953.23,76.88 L953.59,77.06 L953.96,77.08 L954.32,77.22 L954.68,77.14 L955.05,76.98 L955.41,77.12 L955.78,77.19 L956.14,77.09 L956.50,77.01 L956.87,77.14 L957.23,77.01 L957.60,76.83 L957.96,77.21 L958.32,76.90 L958.69,77.01 L959.05,77.02 L959.42,77.01 L959.78,77.02 L960.14,76.88 L960.51,77.12 L960.87,77.06 L961.24,77.06 L961.60,77.18 L961.96,77.19 L962.33,77.21 L962.69,77.28 L963.05,77.11 L963.42,76.87 L963.78,77.08 L964.15,77.05 L964.51,77.06 L964.87,76.98 L965.24,76.95 L965.60,77.15 L965.97,77.17 L966.33,76.92 L966.69,77.12 L967.06,77.03 L967.42,77.01 L967.79,77.14 L968.15,77.05 L968.51,76.99 L968.88,77.06 L969.24,76.81 L969.61,76.98 L969.97,77.00 L970.33,76.89 L970.70,77.07 L971.06,77.08 L971.43,76.98 L971.79,77.03 L972.15,77.13 L972.52,77.18 L972.88,76.96 L973.25,77.09 L973.61,77.18 L973.97,77.05 L974.34,76.96 L974.70,76.96 L975.07,77.01 L975.43,76.93 L975.79,77.29 L976.16,76.98 L976.52,77.10 L976.88,77.07 L977.25,77.13 L977.61,77.00 L977.98,76.89 L978.34,77.25 L978.70,77.04 L979.07,77.06 L979.43,77.07 L979.80,77.20 L980.16,77.14 L980.52,77.19 L980.89,77.15 L981.25,77.07 L981.62,77.08 L981.98,76.96 L982.34,76.82 L982.71,77.02 L983.07,76.92 L983.44,77.36 L983.80,77.24" fill="none" stroke="#00f" stroke-width="1.6"/>
<rect x="729.0" y="27.7" width="262.30" height="196.40" fill="none" stroke="#000" stroke-width="1.2"/>
<text x="734.00" y="239.00" font-family='"Liberation Serif", serif' font-size="14" text-anchor="middle" >100</text>
<text x="785.55" y="239.00" font-family='"Liberation Serif", serif' font-size="14" text-anchor="middle" >150</text>
<text x="837.10" y="239.00" font-family='"Liberation Serif", serif' font-size="14" text-anchor="middle" >200</text>
<text x="888.65" y="239.00" font-family='"Liberation Serif", serif' font-size="14" text-anchor="middle" >250</text>
<text x="940.20" y="239.00" font-family='"Liberation Serif", serif' font-size="14" text-anchor="middle" >300</text>
<text x="991.75" y="239.00" font-family='"Liberation Serif", serif' font-size="14" text-anchor="middle" >350</text>
<text x="724.70" y="31.60" font-family='"Liberation Serif", serif' font-size="14" text-anchor="end" >5</text>
<text x="724.70" y="80.70" font-family='"Liberation Serif", serif' font-size="14" text-anchor="end" >0</text>
<text x="724.70" y="129.80" font-family='"Liberation Serif", serif' font-size="14" text-anchor="end" >-5</text>
<text x="724.70" y="178.90" font-family='"Liberation Serif", serif' font-size="14" text-anchor="end" >-10</text>
<text x="724.70" y="228.00" font-family='"Liberation Serif", serif' font-size="14" text-anchor="end" >-15</text>
<text x="864.50" y="254.10" font-family='"Liberation Serif", serif' font-size="14" text-anchor="middle" >Flight time (s)</text>
<text transform="translate(700.4,180.9) rotate(-90)" font-family='"Liberation Serif", serif' font-size="14.1">Acceleration (m·s<tspan font-size="9" dy="-8">-2</tspan><tspan dy="8">)</tspan></text>
<rect x="932.5" y="93.6" width="51.8" height="45.7" fill="#fff" stroke="#555" stroke-width="1"/>
<line x1="935.8" y1="102.8" x2="960.9" y2="102.8" stroke="#505050" stroke-width="1.9"/>
<line x1="935.8" y1="116.7" x2="960.9" y2="116.7" stroke="#ff5050" stroke-width="1.9"/>
<line x1="935.8" y1="130.4" x2="960.9" y2="130.4" stroke="#4040ff" stroke-width="1.5"/>
<text x="963.80" y="107.00" font-family='"Liberation Serif", serif' font-size="11" text-anchor="start" >a2x</text>
<text x="963.80" y="120.60" font-family='"Liberation Serif", serif' font-size="11" text-anchor="start" >a2y</text>
<text x="963.80" y="134.30" font-family='"Liberation Serif", serif' font-size="11" text-anchor="start" >a2z</text>
<text x="738.2" y="282.8" font-family='"Liberation Serif", serif' font-size="18" textLength="241.1" lengthAdjust="spacing">Acceleration with respect to time</text>
</svg></body></html>
